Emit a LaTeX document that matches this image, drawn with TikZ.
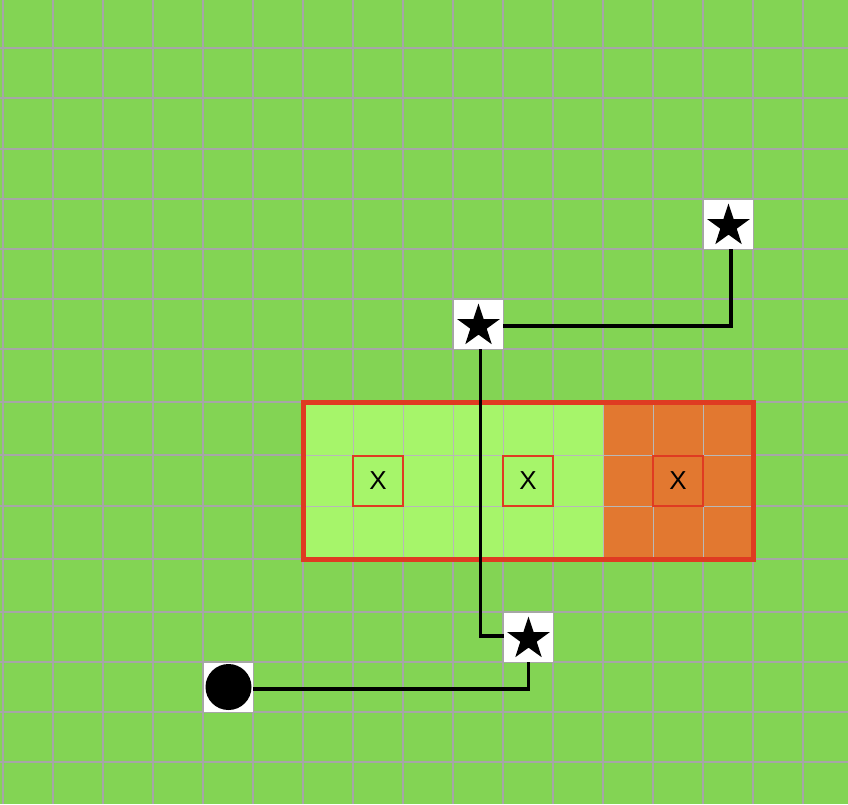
\documentclass[tikz,border=0pt]{standalone}
\usepackage{fontspec}
\setmainfont{Liberation Sans}
\usepackage{tikz}
\usetikzlibrary{positioning, shapes.geometric, calc}
\definecolor{fieldgreen}{HTML}{83D454}
\definecolor{zonegreen}{HTML}{A6F56A}
\definecolor{zoneorange}{HTML}{E27830}
\definecolor{zonered}{HTML}{DF3B22}
\definecolor{gridgray}{HTML}{A6A6A6}
\begin{document}
\begin{tikzpicture}[x=1pt,y=-1pt,
  cellbox/.style={fill=white, draw=none, minimum size=49pt, inner sep=0pt},
  starmark/.style={star, star points=5, star point ratio=2.6, fill=black, minimum size=45pt, inner sep=0pt},
  dotmark/.style={circle, fill=black, minimum size=46pt, inner sep=0pt},
  xbox/.style={draw=zonered, line width=2pt, minimum size=50pt, inner sep=0pt, font=\fontsize{26}{26}\selectfont},
  track/.style={draw=black, line width=3.2pt}]
  \useasboundingbox (0,0) rectangle (848,804);
  \fill[fieldgreen] (0,0) rectangle (848,804);
  % field grid
  \foreach \gx in {3,53,...,803}
    \draw[gridgray, line width=1.1pt] (\gx,0) -- (\gx,804);
  \foreach \gy in {48,98,149,199,249,299,349,402,455,506,559,612,662,712,762}
    \draw[gridgray, line width=1.1pt] (0,\gy) -- (848,\gy);
  % zone
  \fill[zonegreen] (303,402) rectangle (603,559);
  \fill[zoneorange] (603,402) rectangle (753,559);
  \foreach \gx in {353,403,...,703}
    \draw[gridgray!80, line width=0.8pt] (\gx,402) -- (\gx,559);
  \foreach \gy in {455,506}
    \draw[gridgray!80, line width=0.8pt] (303,\gy) -- (753,\gy);
  \draw[zonered, line width=5pt] (303.5,402.5) rectangle (753.5,559.5);
  \node[xbox] (mark1) at (378,480.5) {X};
  \node[xbox] (mark2) at (528,480.5) {X};
  \node[xbox] (mark3) at (678,480.5) {X};
  % cells
  \node[cellbox] (start) at (228.5,687) {};
  \node[dotmark] at (start) {};
  \node[cellbox] (goal1) at (528.5,637) {};
  \node[starmark] at ([yshift=-2pt]goal1.center) {};
  \node[cellbox] (goal2) at (478.5,324) {};
  \node[starmark] at ([yshift=-2pt]goal2.center) {};
  \node[cellbox] (goal3) at (728.5,224) {};
  \node[starmark] at ([yshift=-2pt]goal3.center) {};
  % route
  \draw[track] ([yshift=-2pt]start.east) -| (goal1.south);
  \draw[track] ([yshift=1pt]goal1.west) -| ([xshift=2pt]goal2.south);
  \draw[track] ([yshift=-2pt]goal2.east) -| ([xshift=2.5pt]goal3.south);
\end{tikzpicture}
\end{document}
